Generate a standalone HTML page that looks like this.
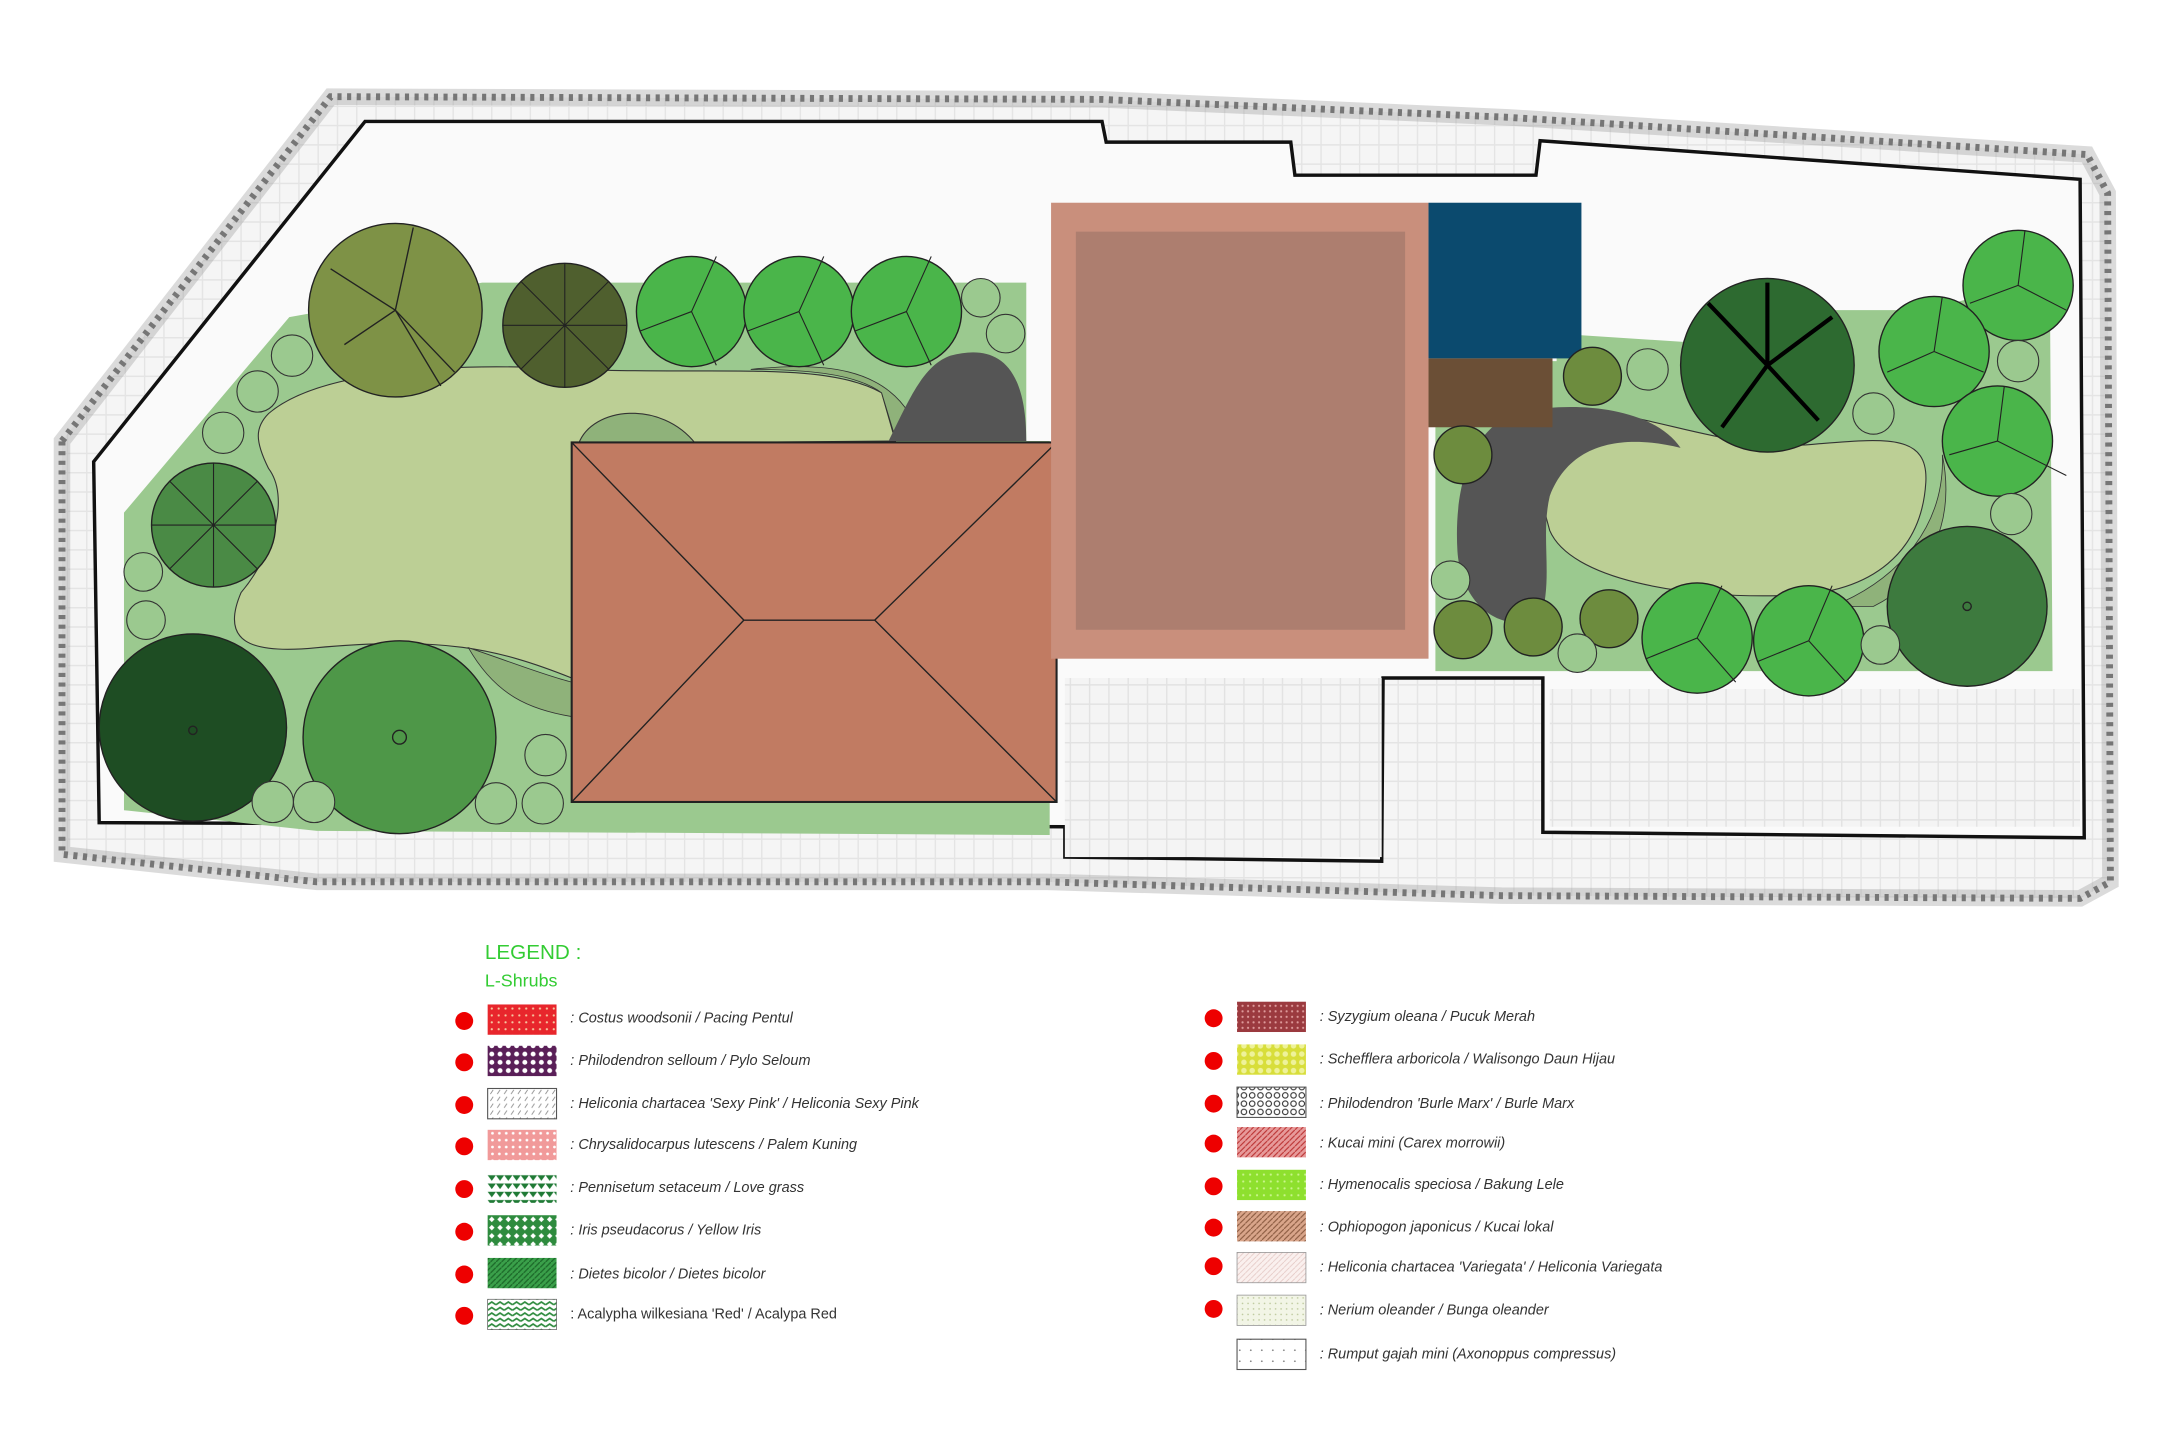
<!DOCTYPE html>
<html><head><meta charset="utf-8"><style>
html,body{margin:0;padding:0;background:#fff;}
svg{display:block;}
text{font-family:"Liberation Sans",sans-serif;}
.it{font-size:10.5px;font-style:italic;fill:#333;}
</style></head><body>
<svg width="2160" height="1440" viewBox="0 0 1568 1045" xmlns="http://www.w3.org/2000/svg">
<defs>
<pattern id="p1" width="5" height="5" patternUnits="userSpaceOnUse"><rect width="5" height="5" fill="#e8262c"/><circle cx="2" cy="2" r="0.8" fill="#f6c7a0"/></pattern>
<pattern id="p2" width="6" height="6" patternUnits="userSpaceOnUse"><rect width="6" height="6" fill="#5a1f58"/><circle cx="3" cy="3" r="1.8" fill="#fff"/></pattern>
<pattern id="p3" width="5" height="5" patternUnits="userSpaceOnUse"><rect width="5" height="5" fill="#fff"/><path d="M1 4L3 1" stroke="#888" stroke-width="0.6"/></pattern>
<pattern id="p4" width="5" height="5" patternUnits="userSpaceOnUse"><rect width="5" height="5" fill="#f19a9a"/><circle cx="2.5" cy="2.5" r="1" fill="#fff"/></pattern>
<pattern id="p5" width="6" height="6" patternUnits="userSpaceOnUse"><rect width="6" height="6" fill="#fff"/><path d="M0 1H6L3 5Z" fill="#1f7a35"/></pattern>
<pattern id="p6" width="6" height="6" patternUnits="userSpaceOnUse"><rect width="6" height="6" fill="#2e8b3e"/><path d="M3 1L5 3L3 5L1 3Z" fill="#fff"/></pattern>
<pattern id="p7" width="4" height="4" patternUnits="userSpaceOnUse"><rect width="4" height="4" fill="#3aa04a"/><path d="M0 4L4 0" stroke="#1d6a2a" stroke-width="1"/></pattern>
<pattern id="p8" width="6" height="4" patternUnits="userSpaceOnUse"><rect width="6" height="4" fill="#fff"/><path d="M0 3L3 1L6 3" stroke="#2e8b3e" stroke-width="1.2" fill="none"/></pattern>
<pattern id="p9" width="4" height="4" patternUnits="userSpaceOnUse"><rect width="4" height="4" fill="#9b3a3f"/><circle cx="2" cy="2" r="0.8" fill="#d99"/></pattern>
<pattern id="p10" width="6" height="6" patternUnits="userSpaceOnUse"><rect width="6" height="6" fill="#d8de3a"/><circle cx="3" cy="3" r="2" fill="#eef29a"/></pattern>
<pattern id="p11" width="6" height="6" patternUnits="userSpaceOnUse"><rect width="6" height="6" fill="#fff"/><circle cx="3" cy="3" r="2" fill="none" stroke="#333" stroke-width="0.8"/></pattern>
<pattern id="p12" width="4" height="4" patternUnits="userSpaceOnUse"><rect width="4" height="4" fill="#e79a9a"/><path d="M0 4L4 0" stroke="#b33" stroke-width="0.8"/></pattern>
<pattern id="p13" width="5" height="5" patternUnits="userSpaceOnUse"><rect width="5" height="5" fill="#8ee02e"/><circle cx="2.5" cy="2.5" r="0.8" fill="#c9f58a"/></pattern>
<pattern id="p14" width="4" height="4" patternUnits="userSpaceOnUse"><rect width="4" height="4" fill="#d9a58a"/><path d="M0 4L4 0" stroke="#8a5a40" stroke-width="0.8"/></pattern>
<pattern id="p15" width="4" height="4" patternUnits="userSpaceOnUse"><rect width="4" height="4" fill="#faf0ee"/><path d="M0 4L4 0" stroke="#e4c8c4" stroke-width="0.6"/></pattern>
<pattern id="p16" width="4" height="4" patternUnits="userSpaceOnUse"><rect width="4" height="4" fill="#f2f5e6"/><circle cx="2" cy="2" r="0.6" fill="#bcc89a"/></pattern>
<pattern id="p17" width="8" height="8" patternUnits="userSpaceOnUse"><rect width="8" height="8" fill="#fff"/><circle cx="4" cy="4" r="0.6" fill="#777"/></pattern>
<pattern id="sk" width="14" height="14" patternUnits="userSpaceOnUse"><rect width="14" height="14" fill="#f4f4f4"/><path d="M0 7H14M7 0V14" stroke="#e2e2e2" stroke-width="1"/></pattern>
</defs>

<!-- sketch background -->
<path d="M45,320 L240,70 L800,72 L1095,85 L1515,112 L1530,140 L1532,640 L1510,652 L1090,650 L760,640 L230,640 L45,620 Z" fill="url(#sk)" stroke="#555" stroke-width="5" stroke-dasharray="3 4" opacity="0.9"/>
<path d="M45,320 L240,70 L800,72 L1095,85 L1515,112 L1530,140 L1532,640 L1510,652 L1090,650 L760,640 L230,640 L45,620 Z" fill="none" stroke="#999" stroke-width="12" opacity="0.35"/>

<!-- site boundary -->
<path d="M68,335 L265,88 L800,88 L803,103 L937,103 L940,127 L1115,127 L1118,102 L1510,130 L1513,608 L1120,604 L1120,492 L1004,492 L1003,625 L773,622 L773,600 L72,597 Z" fill="#fafafa" stroke="#111" stroke-width="2.5"/>
<rect x="773" y="492" width="230" height="130" fill="url(#sk)"/>
<rect x="1125" y="500" width="385" height="100" fill="url(#sk)"/>

<!-- left garden -->
<path d="M350,205 L745,205 L745,320 L762,320 L762,606 L230,603 L90,588 L90,372 L210,230 Z" fill="#9bc98f"/>
<path d="M195,300 C230,270 320,262 420,268 C520,272 600,262 640,285 L650,320 L415,322 L415,492 C360,470 320,462 230,470 C180,475 160,465 175,430 C200,400 210,360 195,340 C185,320 185,310 195,300 Z" fill="#bccf95" stroke="#333" stroke-width="0.8"/>
<path d="M420,322 C430,295 480,290 505,322 Z" fill="#8fb27a" stroke="#333" stroke-width="0.8"/>
<path d="M545,268 C600,262 640,268 660,300 L650,318 L640,285 C620,270 580,268 545,268Z" fill="#8fb27a" stroke="#333" stroke-width="0.6"/>
<path d="M340,470 C370,480 395,490 415,495 L415,520 C385,515 360,505 340,470Z" fill="#8fb27a" stroke="#333" stroke-width="0.6"/>
<path d="M690,258 C720,250 745,260 745,320 L645,320 C660,290 670,265 690,258Z" fill="#555"/>

<!-- right garden -->
<path d="M1042,262 L1130,262 L1130,242 L1222,248 L1235,225 L1400,225 L1488,200 L1490,487 L1042,487 Z" fill="#9bc98f"/>
<path d="M1130,300 C1180,290 1250,330 1320,322 C1370,318 1400,315 1398,350 C1395,400 1360,430 1300,432 C1220,435 1140,420 1125,385 C1115,350 1110,310 1130,300Z" fill="#bccf95" stroke="#333" stroke-width="0.8"/>
<path d="M1100,300 C1140,290 1200,295 1220,325 C1180,315 1140,320 1125,360 C1118,390 1128,420 1118,450 C1080,460 1060,430 1058,400 C1055,350 1070,310 1100,300Z" fill="#555"/>
<path d="M1410,330 C1412,380 1380,420 1330,440 L1360,440 C1400,420 1420,380 1410,330Z" fill="#8fb27a" stroke="#333" stroke-width="0.6"/>

<!-- roof -->
<rect x="415" y="321" width="352" height="261" fill="#c17b62" stroke="#222" stroke-width="1.5"/>
<path d="M415,321 L540,450 L635,450 L767,321 M415,582 L540,450 M635,450 L767,582" stroke="#222" stroke-width="1" fill="none"/>
<!-- pink building -->
<rect x="763" y="147" width="274" height="331" fill="#c98f7c"/>
<rect x="781" y="168" width="239" height="289" fill="#ad7e6f"/>
<rect x="1037" y="147" width="111" height="113" fill="#0b4a6e"/>
<rect x="1037" y="260" width="90" height="50" fill="#6b4f36"/>

<!-- trees left -->
<g stroke="#222" stroke-width="1">
<circle cx="287" cy="225" r="63" fill="#7e9246"/>
<path d="M287,225 L240,195 M287,225 L300,165 M287,225 L330,270 M287,225 L250,250 M287,225 L320,280" fill="none"/>
<circle cx="410" cy="236" r="45" fill="#4f5f2e"/>
<path d="M410,191 L410,281 M365,236 L455,236 M378,204 L442,268 M442,204 L378,268" fill="none" stroke-width="0.8"/>
<circle cx="155" cy="381" r="45" fill="#4a8a45"/>
<path d="M155,336 L155,426 M110,381 L200,381 M123,349 L187,413 M187,349 L123,413" fill="none" stroke-width="0.8"/>
<circle cx="140" cy="528" r="68" fill="#1e4d23"/>
<circle cx="140" cy="530" r="3" fill="none"/>
<circle cx="290" cy="535" r="70" fill="#4e9748"/>
<circle cx="290" cy="535" r="5" fill="none"/>
<circle cx="502" cy="226" r="40" fill="#4ab54a"/>
<circle cx="580" cy="226" r="40" fill="#4ab54a"/>
<circle cx="658" cy="226" r="40" fill="#4ab54a"/>
<path d="M502,226 L520,186 M502,226 L465,240 M502,226 L520,265 M580,226 L598,186 M580,226 L543,240 M580,226 L598,265 M658,226 L676,186 M658,226 L621,240 M658,226 L676,265" fill="none" stroke-width="0.8"/>
</g>
<g fill="#9bc98f" stroke="#333" stroke-width="0.8">
<circle cx="712" cy="216" r="14"/><circle cx="730" cy="242" r="14"/>
<circle cx="212" cy="258" r="15"/><circle cx="187" cy="284" r="15"/><circle cx="162" cy="314" r="15"/>
<circle cx="104" cy="415" r="14"/><circle cx="106" cy="450" r="14"/>
<circle cx="396" cy="548" r="15"/><circle cx="360" cy="583" r="15"/><circle cx="394" cy="583" r="15"/>
<circle cx="198" cy="582" r="15"/><circle cx="228" cy="582" r="15"/>
</g>

<!-- trees right -->
<g stroke="#222" stroke-width="1">
<circle cx="1283" cy="265" r="63" fill="#2d6a30"/>
<path d="M1283,265 L1240,220 M1283,265 L1330,230 M1283,265 L1250,310 M1283,265 L1320,305 M1283,265 L1283,205" stroke="#000" stroke-width="3" fill="none"/>
<circle cx="1465" cy="207" r="40" fill="#4ab54a"/>
<circle cx="1404" cy="255" r="40" fill="#4ab54a"/>
<circle cx="1450" cy="320" r="40" fill="#4ab54a"/>
<circle cx="1232" cy="463" r="40" fill="#4ab54a"/>
<circle cx="1313" cy="465" r="40" fill="#4ab54a"/>
<path d="M1465,207 L1500,225 M1465,207 L1430,220 M1465,207 L1470,167 M1404,255 L1440,270 M1404,255 L1370,270 M1404,255 L1410,215 M1450,320 L1500,345 M1450,320 L1415,330 M1450,320 L1455,280 M1232,463 L1250,425 M1232,463 L1195,478 M1232,463 L1260,495 M1313,465 L1330,425 M1313,465 L1276,480 M1313,465 L1340,495" fill="none" stroke-width="0.8"/>
<circle cx="1428" cy="440" r="58" fill="#3d7a3e"/>
<circle cx="1428" cy="440" r="3" fill="none"/>
<circle cx="1156" cy="273" r="21" fill="#6d8c3e"/>
<circle cx="1062" cy="330" r="21" fill="#6d8c3e"/>
<circle cx="1062" cy="457" r="21" fill="#6d8c3e"/>
<circle cx="1113" cy="455" r="21" fill="#6d8c3e"/>
<circle cx="1168" cy="449" r="21" fill="#6d8c3e"/>
</g>
<g fill="#9bc98f" stroke="#333" stroke-width="0.8">
<circle cx="1196" cy="268" r="15"/><circle cx="1465" cy="262" r="15"/><circle cx="1360" cy="300" r="15"/>
<circle cx="1460" cy="373" r="15"/><circle cx="1053" cy="421" r="14"/><circle cx="1145" cy="474" r="14"/><circle cx="1365" cy="468" r="14"/>
</g>

<!-- legend -->
<text x="352" y="696" font-size="15" fill="#33cc33">LEGEND :</text>
<text x="352" y="716" font-size="13" fill="#33cc33">L-Shrubs</text>

<g>
<circle cx="337" cy="741" r="6.5" fill="#e00"/><rect x="354" y="729" width="50" height="22" fill="url(#p1)"/><text class="it" x="414" y="742">: Costus woodsonii / Pacing Pentul</text>
<circle cx="337" cy="771" r="6.5" fill="#e00"/><rect x="354" y="759" width="50" height="22" fill="url(#p2)"/><text class="it" x="414" y="773">: Philodendron selloum / Pylo Seloum</text>
<circle cx="337" cy="802" r="6.5" fill="#e00"/><rect x="354" y="790" width="50" height="22" fill="url(#p3)" stroke="#555" stroke-width="0.8"/><text class="it" x="414" y="804">: Heliconia chartacea 'Sexy Pink' / Heliconia Sexy Pink</text>
<circle cx="337" cy="832" r="6.5" fill="#e00"/><rect x="354" y="820" width="50" height="22" fill="url(#p4)"/><text class="it" x="414" y="834">: Chrysalidocarpus lutescens / Palem Kuning</text>
<circle cx="337" cy="863" r="6.5" fill="#e00"/><rect x="354" y="851" width="50" height="22" fill="url(#p5)"/><text class="it" x="414" y="865">: Pennisetum setaceum / Love grass</text>
<circle cx="337" cy="894" r="6.5" fill="#e00"/><rect x="354" y="882" width="50" height="22" fill="url(#p6)"/><text class="it" x="414" y="896">: Iris pseudacorus / Yellow Iris</text>
<circle cx="337" cy="925" r="6.5" fill="#e00"/><rect x="354" y="913" width="50" height="22" fill="url(#p7)"/><text class="it" x="414" y="928">: Dietes bicolor / Dietes bicolor</text>
<circle cx="337" cy="955" r="6.5" fill="#e00"/><rect x="354" y="943" width="50" height="22" fill="url(#p8)" stroke="#555" stroke-width="0.5"/><text class="it" x="414" y="957" style="font-style:normal">: Acalypha wilkesiana 'Red' / Acalypa Red</text>

<circle cx="881" cy="739" r="6.5" fill="#e00"/><rect x="898" y="727" width="50" height="22" fill="url(#p9)"/><text class="it" x="958" y="741">: Syzygium oleana / Pucuk Merah</text>
<circle cx="881" cy="770" r="6.5" fill="#e00"/><rect x="898" y="758" width="50" height="22" fill="url(#p10)"/><text class="it" x="958" y="772">: Schefflera arboricola / Walisongo Daun Hijau</text>
<circle cx="881" cy="801" r="6.5" fill="#e00"/><rect x="898" y="789" width="50" height="22" fill="url(#p11)" stroke="#555" stroke-width="0.8"/><text class="it" x="958" y="804">: Philodendron 'Burle Marx' / Burle Marx</text>
<circle cx="881" cy="830" r="6.5" fill="#e00"/><rect x="898" y="818" width="50" height="22" fill="url(#p12)"/><text class="it" x="958" y="833">: Kucai mini (Carex morrowii)</text>
<circle cx="881" cy="861" r="6.5" fill="#e00"/><rect x="898" y="849" width="50" height="22" fill="url(#p13)"/><text class="it" x="958" y="863">: Hymenocalis speciosa / Bakung Lele</text>
<circle cx="881" cy="891" r="6.5" fill="#e00"/><rect x="898" y="879" width="50" height="22" fill="url(#p14)"/><text class="it" x="958" y="894">: Ophiopogon japonicus / Kucai lokal</text>
<circle cx="881" cy="919" r="6.5" fill="#e00"/><rect x="898" y="909" width="50" height="22" fill="url(#p15)" stroke="#999" stroke-width="0.6"/><text class="it" x="958" y="923">: Heliconia chartacea 'Variegata' / Heliconia Variegata</text>
<circle cx="881" cy="950" r="6.5" fill="#e00"/><rect x="898" y="940" width="50" height="22" fill="url(#p16)" stroke="#999" stroke-width="0.6"/><text class="it" x="958" y="954">: Nerium oleander / Bunga oleander</text>
<rect x="898" y="972" width="50" height="22" fill="url(#p17)" stroke="#555" stroke-width="0.8"/><text class="it" x="958" y="986">: Rumput gajah mini (Axonoppus compressus)</text>
</g>
</svg>
</body></html>
